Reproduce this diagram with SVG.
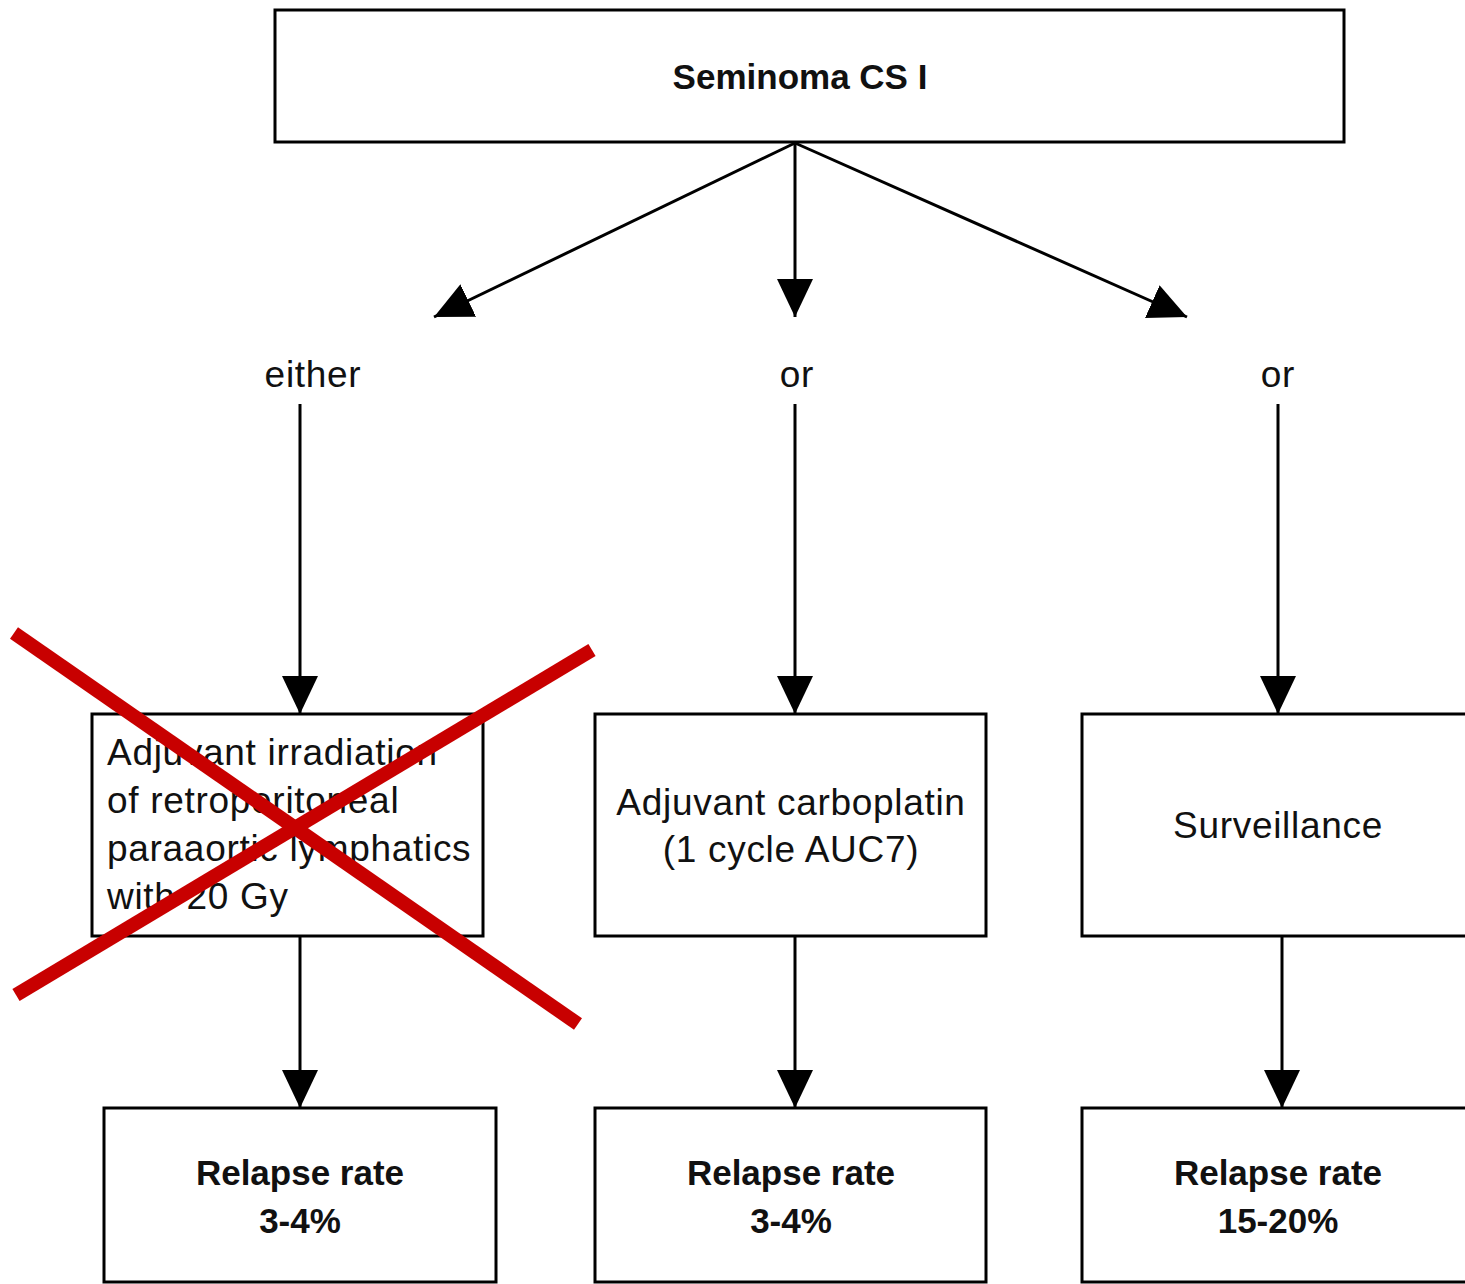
<svg xmlns="http://www.w3.org/2000/svg" width="1465" height="1284" viewBox="0 0 1465 1284">
<style>
.box{fill:#fff;stroke:#000;stroke-width:3}
.con{stroke:#000;stroke-width:3;fill:none}
.t{font-family:"Liberation Sans",Arial,sans-serif;font-size:37px;fill:#111;letter-spacing:0.7px}
.b{font-family:"Liberation Sans",Arial,sans-serif;font-size:35px;font-weight:bold;fill:#111}
.c{text-anchor:middle}
.x{stroke:#c80000;stroke-width:14}
</style>
<defs>
<marker id="ah" markerUnits="userSpaceOnUse" markerWidth="40" markerHeight="36" refX="38" refY="18" orient="auto">
<path d="M0,0 L38,18 L0,36 Z" fill="#000"/>
</marker>
</defs>
<rect width="1465" height="1284" fill="#fff"/>
<g id="connectors">
<line class="con" x1="795" y1="143" x2="434" y2="317" marker-end="url(#ah)"/>
<line class="con" x1="795" y1="143" x2="795" y2="317" marker-end="url(#ah)"/>
<line class="con" x1="795" y1="143" x2="1187" y2="317" marker-end="url(#ah)"/>
<line class="con" x1="300" y1="404" x2="300" y2="714" marker-end="url(#ah)"/>
<line class="con" x1="795" y1="404" x2="795" y2="714" marker-end="url(#ah)"/>
<line class="con" x1="1278" y1="404" x2="1278" y2="714" marker-end="url(#ah)"/>
<line class="con" x1="300" y1="936" x2="300" y2="1108" marker-end="url(#ah)"/>
<line class="con" x1="795" y1="936" x2="795" y2="1108" marker-end="url(#ah)"/>
<line class="con" x1="1282" y1="936" x2="1282" y2="1108" marker-end="url(#ah)"/>
</g>
<g id="top">
<rect class="box" x="275" y="10" width="1069" height="132"/>
<text class="b c" x="800" y="89">Seminoma CS I</text>
</g>
<g id="lbl-either"><text class="t c" x="313" y="387">either</text></g>
<g id="lbl-or1"><text class="t c" x="797" y="387">or</text></g>
<g id="lbl-or2"><text class="t c" x="1278" y="387">or</text></g>
<g id="irradiation">
<rect class="box" x="92" y="714" width="391" height="222"/>
<text class="t" x="107" y="765">Adjuvant irradiation</text>
<text class="t" x="107" y="813">of retroperitoneal</text>
<text class="t" x="107" y="861">paraaortic lymphatics</text>
<text class="t" x="107" y="909">with 20 Gy</text>
</g>
<g id="carboplatin">
<rect class="box" x="595" y="714" width="391" height="222"/>
<text class="t c" x="791" y="815">Adjuvant carboplatin</text>
<text class="t c" x="791" y="862">(1 cycle AUC7)</text>
</g>
<g id="surveillance">
<rect class="box" x="1082" y="714" width="400" height="222"/>
<text class="t c" x="1278" y="838">Surveillance</text>
</g>
<g id="relapse1">
<rect class="box" x="104" y="1108" width="392" height="174"/>
<text class="b c" x="300" y="1185">Relapse rate</text>
<text class="b c" x="300" y="1233">3-4%</text>
</g>
<g id="relapse2">
<rect class="box" x="595" y="1108" width="391" height="174"/>
<text class="b c" x="791" y="1185">Relapse rate</text>
<text class="b c" x="791" y="1233">3-4%</text>
</g>
<g id="relapse3">
<rect class="box" x="1082" y="1108" width="400" height="174"/>
<text class="b c" x="1278" y="1185">Relapse rate</text>
<text class="b c" x="1278" y="1233">15-20%</text>
</g>
<g id="cross">
<line class="x" x1="14" y1="633" x2="578" y2="1024"/>
<line class="x" x1="592" y1="650" x2="16" y2="995"/>
</g>
</svg>
